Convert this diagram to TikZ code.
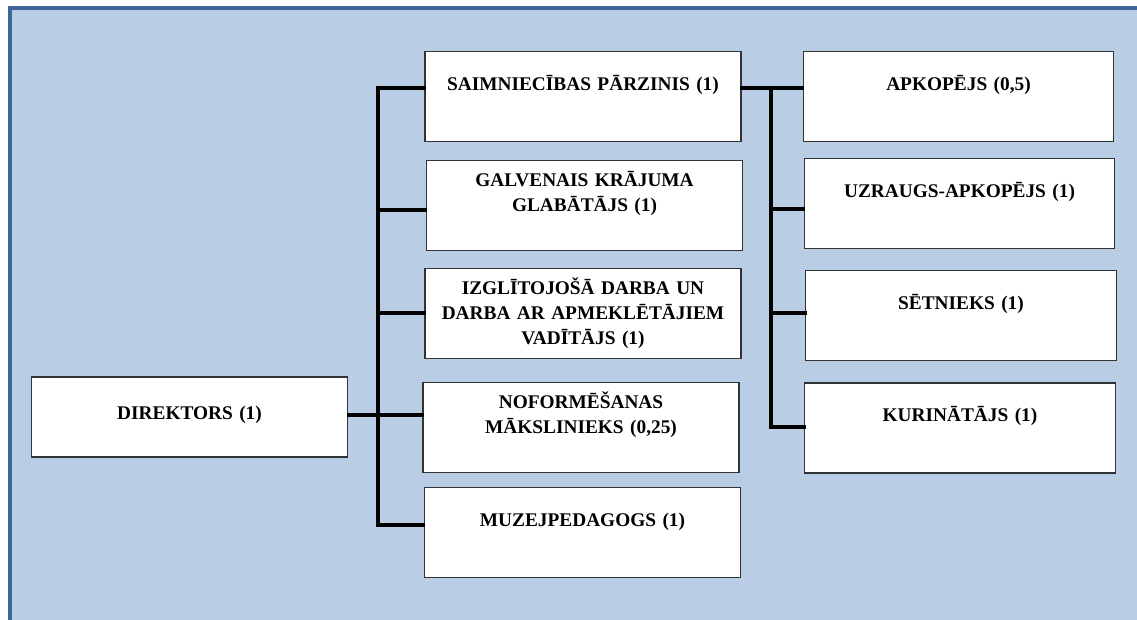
\documentclass[tikz,border=0pt]{standalone}
\usepackage{fontspec}
\setmainfont{Liberation Serif}
\definecolor{panelfill}{HTML}{B9CDE5}
\definecolor{panelline}{HTML}{3F6598}
\newcommand\postfont{\fontsize{14.5}{18.8}\selectfont\bfseries}
\tikzset{
  post/.style={draw=black!80, fill=white, line width=0.9pt, inner xsep=4pt, inner ysep=0pt,
    minimum width=237pt, text width=229pt, align=center, font=\postfont},
  oneline/.style={post, text height=28.9pt, text depth=38.6pt},
  multiline/.style={post, text height=19.5pt, text depth=48pt},
  narrow/.style={minimum width=233pt, text width=225pt},
  link/.style={line width=2.3pt, line cap=rect},
}
\begin{document}
\begin{tikzpicture}[x=0.75pt, y=-0.75pt]
  \path[use as bounding box, clip] (0,0) rectangle (1137,620);
  % background panel
  \draw[line width=3pt, draw=panelline, fill=panelfill] (10,8) rectangle (1170,650);

  % director
  \node[post, minimum width=236pt, text height=31.9pt, text depth=28.1pt] (dir) at (189.5,417) {DIREKTORS (1)};

  % first level
  \node[oneline] (sai) at (583,96.5) {SAIMNIECĪBAS PĀRZINIS (1)};
  \node[multiline] (gal) at (584.5,205.5) {GALVENAIS KRĀJUMA\\GLABĀTĀJS (1)};
  \node[multiline] (izg) at (583,313.5) {IZGLĪTOJOŠĀ DARBA UN\\DARBA AR APMEKLĒTĀJIEM\\VADĪTĀJS (1)};
  \node[multiline] (nof) at (581,427.5) {NOFORMĒŠANAS\\MĀKSLINIEKS (0,25)};
  \node[oneline] (muz) at (582.5,532.5) {MUZEJPEDAGOGS (1)};

  % second level
  \node[oneline, narrow] (apk) at (958.5,96.5) {APKOPĒJS (0,5)};
  \node[oneline, narrow] (uzr) at (959.5,203.5) {UZRAUGS-APKOPĒJS (1)};
  \node[oneline, narrow] (set) at (961,315.5) {SĒTNIEKS (1)};
  \node[oneline, narrow] (kur) at (960,428) {KURINĀTĀJS (1)};

  % junctions
  \coordinate (l1) at (378,88);
  \coordinate (l2) at (378,210);
  \coordinate (l3) at (378,313);
  \coordinate (l4) at (378,415);
  \coordinate (l5) at (378,525);
  \coordinate (r1) at (771,88);
  \coordinate (r2) at (771,209);
  \coordinate (r3) at (771,313);
  \coordinate (r4) at (771,427);

  \draw[link] (l1 -| sai.west) -- (l1) -- (l5) -- (l5 -| muz.west);
  \foreach \j/\n in {l2/gal, l3/izg, l4/nof}
    \draw[link] (\j) -- (\j -| \n.west);
  \draw[link] (l4 -| dir.east) -- (l4);

  \draw[link] (r1 -| sai.east) -- (r1 -| apk.west);
  \draw[link] (r1) -- (r4) -- (r4 -| kur.west);
  \foreach \j/\n in {r2/uzr, r3/set}
    \draw[link] (\j) -- (\j -| \n.west);
\end{tikzpicture}
\end{document}
